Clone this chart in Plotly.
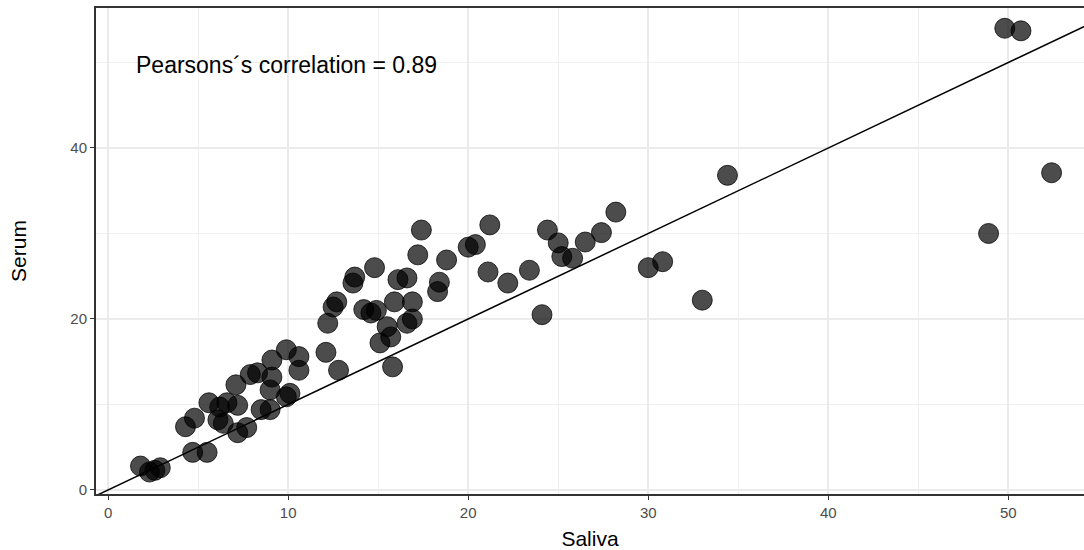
import plotly.graph_objects as go

saliva = [1.8, 2.3, 2.6, 2.9,
          4.3, 4.8, 4.7, 5.5,
          5.6, 6.2, 6.6, 6.1, 6.4, 7.1, 7.2, 7.7, 7.2,
          7.9, 8.3, 9.1, 9.1, 9.0, 9.9, 9.0, 8.5, 9.9, 10.6, 10.6, 10.1,
          12.2, 12.1, 12.8, 12.5, 12.7, 13.6, 13.7, 14.8,
          14.2, 14.6, 14.9, 15.5, 15.1, 15.7, 15.8, 16.6, 16.9,
          15.9, 16.9, 16.1, 16.6, 17.2, 17.4, 18.8, 18.4, 18.3,
          20.0, 20.4, 21.2, 21.1, 22.2, 23.4, 24.1, 24.4, 25.0, 25.2, 25.8,
          26.5, 27.4, 28.2, 30.0, 30.8, 33.0, 34.4, 48.9, 49.8, 50.7, 52.4]
serum = [2.8, 2.1, 2.3, 2.6,
         7.4, 8.4, 4.4, 4.4,
         10.2, 9.7, 10.2, 8.2, 7.8, 12.3, 6.7, 7.3, 9.9,
         13.5, 13.7, 15.2, 13.2, 11.7, 10.9, 9.4, 9.4, 16.4, 15.6, 14.0, 11.3,
         19.5, 16.1, 14.0, 21.4, 22.0, 24.2, 24.9, 26.0,
         21.1, 20.7, 21.0, 19.1, 17.2, 17.9, 14.4, 19.5, 20.0,
         22.0, 22.0, 24.6, 24.8, 27.5, 30.4, 26.9, 24.3, 23.2,
         28.4, 28.7, 31.0, 25.5, 24.2, 25.7, 20.5, 30.4, 28.9, 27.3, 27.1,
         29.0, 30.1, 32.5, 26.0, 26.7, 22.2, 36.8, 30.0, 54.0, 53.7, 37.1]

line_x = [-5, 70]
line_y = [-5, 70]

x_ticks = [0, 10, 20, 30, 40, 50]
y_ticks = [0, 20, 40]
annotation_text = "Pearsons´s correlation = 0.89"

FONT = "Liberation Sans, Arial"

fig = go.Figure()
fig.add_trace(go.Scatter(
    x=line_x, y=line_y, mode="lines",
    line=dict(color="black", width=1.5), hoverinfo="skip", showlegend=False))
fig.add_trace(go.Scatter(
    x=saliva, y=serum, mode="markers",
    marker=dict(size=20, color="rgba(0,0,0,0.7)",
                line=dict(color="rgba(0,0,0,0.75)", width=1)),
    showlegend=False))

fig.add_annotation(x=1.45, y=49.7, xref="x", yref="y", text=annotation_text,
                   showarrow=False, xanchor="left", yanchor="middle",
                   font=dict(family=FONT, size=23, color="black"))

axis_common = dict(
    showgrid=True, gridcolor="#ebebeb", gridwidth=1.5,
    zeroline=False, showline=True, linecolor="#333333", linewidth=2,
    ticks="outside", ticklen=4, tickcolor="#333333", tickwidth=1,
    tickfont=dict(family=FONT, size=15, color="#4d4d4d"),
)

fig.update_xaxes(
    range=[-0.67, 54.2], tickvals=x_ticks, mirror=True,
    minor=dict(dtick=5, tick0=5, showgrid=True, gridcolor="#f0f0f0", gridwidth=1),
    title=dict(text="Saliva", font=dict(family=FONT, size=21, color="black"), standoff=12),
    **axis_common)
fig.update_yaxes(
    range=[-0.47, 56.37], tickvals=y_ticks, mirror=False,
    minor=dict(dtick=10, tick0=10, showgrid=True, gridcolor="#f0f0f0", gridwidth=1),
    title=dict(text="Serum", font=dict(family=FONT, size=21, color="black"), standoff=38),
    **axis_common)

fig.update_layout(
    width=1084, height=550,
    margin=dict(l=96, r=0, t=8, b=56),
    plot_bgcolor="white", paper_bgcolor="white",
    font=dict(family=FONT),
)

fig.write_html("out.html")
